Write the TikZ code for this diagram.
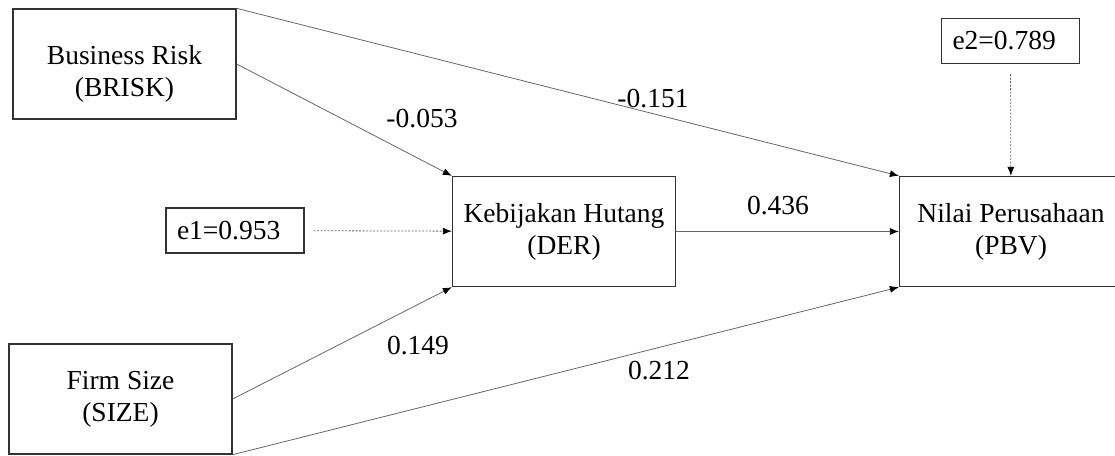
\documentclass[tikz,border=0pt]{standalone}
\usepackage{fontspec}
\setmainfont{Liberation Serif}
\usepackage{tikz}
\usetikzlibrary{arrows.meta, calc}

\begin{document}
\begin{tikzpicture}[x=1pt, y=-1pt,
    every node/.style={font=\rmfamily\fontsize{27.5}{32}\selectfont},
    var/.style={draw=black!80, line width=1.3pt, minimum width=223pt, minimum height=110pt, align=center, inner sep=0pt},
    err/.style={draw=black!80, line width=1.3pt, minimum height=45pt, text width=116pt, align=left, inner xsep=11pt},
    link/.style={draw=black!60, line width=0.8pt, -{Latex[length=9pt, width=7pt, black]}},
    elink/.style={link, dash pattern=on 2pt off 1.5pt}]
        \useasboundingbox (0,0) rectangle (1115,455);
        \clip (0,0) rectangle (1115,455);
        \node[var, text height=70pt, text depth=5pt] (brisk) at (124.5,64) {Business Risk\\(BRISK)};
        \node[var] (size) at (120.5,399) {Firm Size\\(SIZE)};
        \node[var] (der) at (564,231.5) {Kebijakan Hutang\\(DER)};
        \node[var] (pbv) at (1011,231.5) {Nilai Perusahaan\\(PBV)};
        \node[err] (e1) at (235,230.5) {e1=0.953};
        \node[err] (e2) at (1010.5,41) {e2=0.789};
        \draw[link] (brisk.north east) -- (pbv.north west);
        \draw[link] (brisk.east) -- (der.north west);
        \draw[link] (size.east) -- (der.south west);
        \draw[link] (size.south east) -- (pbv.south west);
        \draw[link] (der) -- (pbv);
        \draw[elink, shorten <=9pt] (e1) -- (der);
        \draw[elink, shorten <=10pt] (e2) -- (pbv);
        \node (b1) at (422,119) {-0.053};
        \node (b2) at (653,99) {-0.151};
        \node (b3) at (418,346) {0.149};
        \node (b4) at (659,371) {0.212};
        \node (b5) at (778,206) {0.436};
    \end{tikzpicture}
\end{document}
